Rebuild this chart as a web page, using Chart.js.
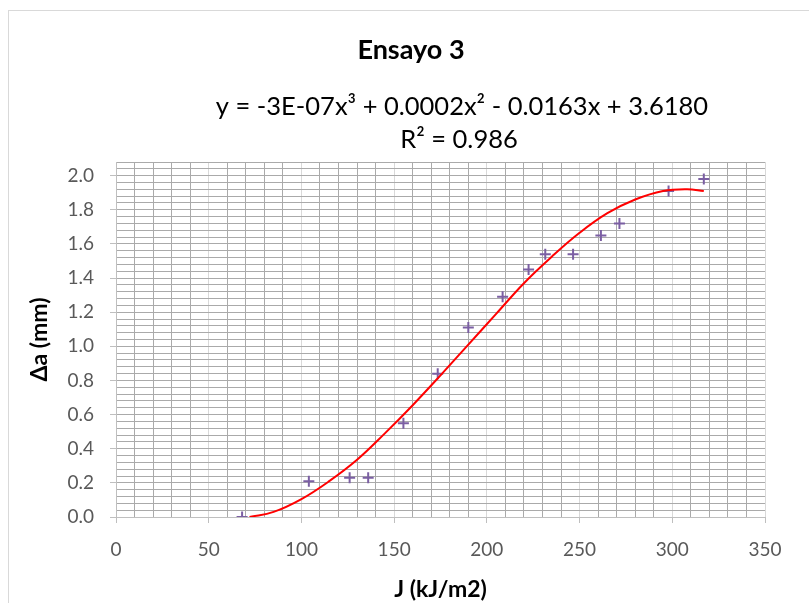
<!DOCTYPE html>
<html>
<head>
<meta charset="utf-8">
<script src="https://cdn.jsdelivr.net/npm/chart.js@4/dist/chart.umd.min.js"></script>
<style>
  html, body { margin: 0; padding: 0; background: #ffffff; }
  #wrap { width: 809px; height: 603px; position: relative; }
</style>
</head>
<body>
<div id="wrap"><canvas id="c" width="809" height="603"></canvas></div>
<script>
// ---- data ----
const jValues  = [68, 104, 126, 136, 155, 173.5, 190, 208.5, 222.5, 231.5, 246.5, 261.5, 271.5, 298, 317];
const daValues = [0.00, 0.21, 0.23, 0.23, 0.55, 0.84, 1.11, 1.29, 1.45, 1.54, 1.54, 1.65, 1.72, 1.91, 1.98];

// trendline (polynomial, order 3)
const trendX = [72, 85, 100, 115, 130, 145, 160, 175, 190, 205, 220, 235, 250, 265, 280, 295, 308, 317];
const trendY = [0.00, 0.03, 0.105, 0.21, 0.335, 0.49, 0.655, 0.83, 1.01, 1.19, 1.37, 1.525, 1.665, 1.78, 1.86, 1.91, 1.92, 1.91];

const chartTitle = 'Ensayo 3';
const equationText = 'y = -3E-07x³ + 0.0002x² - 0.0163x + 3.6180';
const r2Text = 'R² = 0.986';
const xAxisTitle = 'J (kJ/m2)';
const yAxisTitle = 'Δa (mm)';
const xTickLabels = ['0', '50', '100', '150', '200', '250', '300', '350'];
const yTickLabels = ['0.0', '0.2', '0.4', '0.6', '0.8', '1.0', '1.2', '1.4', '1.6', '1.8', '2.0'];

// ---- build ----
const pts = jValues.map((x, i) => ({ x: x, y: daValues[i] }));
const trend = trendX.map((x, i) => ({ x: x, y: trendY[i] }));

const FONT = 'Lato, "Open Sans", sans-serif';
const MAJOR = '#d9d9d9';
const MINOR = '#aaaaaa';

const textPlugin = {
  id: 'texts',
  beforeDraw(chart) {
    const ctx = chart.ctx;
    ctx.save();
    ctx.fillStyle = '#ffffff';
    ctx.fillRect(0, 0, chart.width, chart.height);
    ctx.strokeStyle = '#d9d9d9';
    ctx.lineWidth = 1;
    ctx.strokeRect(8.5, 10.5, 900, 700);
    ctx.restore();
  },
  afterDraw(chart) {
    const ctx = chart.ctx;
    ctx.save();
    ctx.fillStyle = '#000000';
    ctx.textAlign = 'center';
    ctx.textBaseline = 'middle';
    ctx.font = 'bold 27px ' + FONT;
    ctx.fillText(chartTitle, 411, 50);
    ctx.font = '25.5px ' + FONT;
    ctx.fillText(equationText, 462, 107);
    ctx.fillText(r2Text, 459, 140);
    ctx.restore();
  }
};

function isMajorX(v) { return Math.round(v) % 50 === 0; }
function isMajorY(v) { return Math.round(v * 100) % 20 === 0; }

new Chart(document.getElementById('c'), {
  type: 'scatter',
  data: {
    datasets: [
      {
        type: 'line',
        label: 'trend',
        data: trend,
        borderColor: '#ff0000',
        borderWidth: 2,
        pointRadius: 0,
        fill: false,
        tension: 0.4,
        order: 0
      },
      {
        label: 'data',
        data: pts,
        pointStyle: 'cross',
        pointRadius: 5.5,
        borderWidth: 2,
        borderColor: '#7b5fa3',
        backgroundColor: '#7b5fa3',
        order: 1
      }
    ]
  },
  options: {
    responsive: false,
    animation: false,
    devicePixelRatio: 1,
    layout: { padding: { left: 8, top: 162, right: 44, bottom: 0 } },
    plugins: {
      legend: { display: false },
      tooltip: { enabled: false },
      title: { display: false }
    },
    scales: {
      x: {
        type: 'linear',
        min: 0,
        max: 350,
        afterFit(s) { s.height = 86; },
        border: { color: '#bfbfbf', width: 1 },
        grid: {
          color: c => isMajorX(c.tick.value) ? MAJOR : MINOR,
          tickColor: c => isMajorX(c.tick.value) ? '#bfbfbf' : 'rgba(0,0,0,0)',
          tickLength: 6,
          lineWidth: 1
        },
        ticks: {
          stepSize: 10,
          autoSkip: false,
          maxTicksLimit: 1000,
          maxRotation: 0,
          padding: 15,
          color: '#595959',
          font: { family: FONT, size: 19 },
          callback: v => isMajorX(v) ? xTickLabels[Math.round(v / 50)] : ''
        },
        title: {
          display: true,
          text: xAxisTitle,
          color: '#000000',
          font: { family: FONT, size: 23, weight: 'bold' },
          padding: { top: 0, bottom: 0 }
        }
      },
      y: {
        type: 'linear',
        min: 0,
        max: 2.08,
        afterFit(s) { s.width = 108; },
        border: { color: '#bfbfbf', width: 1 },
        grid: {
          color: MINOR,
          tickColor: c => isMajorY(c.tick.value) ? '#bfbfbf' : 'rgba(0,0,0,0)',
          tickLength: 6,
          lineWidth: 1
        },
        ticks: {
          stepSize: 0.04,
          autoSkip: false,
          maxTicksLimit: 1000,
          padding: 16,
          color: '#595959',
          font: { family: FONT, size: 19 },
          callback: v => isMajorY(v) ? yTickLabels[Math.round(v / 0.2)] : ''
        },
        title: {
          display: true,
          text: yAxisTitle,
          color: '#000000',
          font: { family: FONT, size: 23, weight: 'bold' },
          padding: { top: 18, bottom: 0 }
        }
      }
    }
  },
  plugins: [textPlugin]
});
</script>
</body>
</html>
